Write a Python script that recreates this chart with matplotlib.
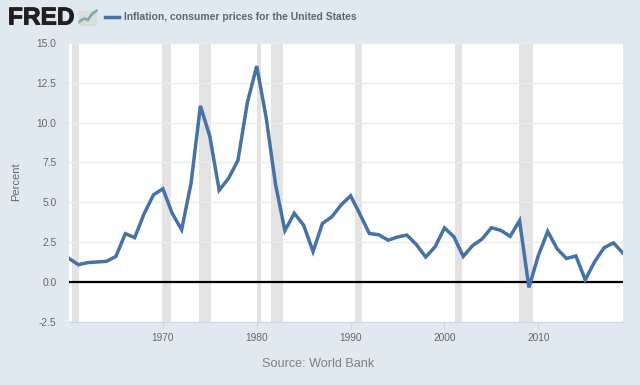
import matplotlib
matplotlib.use("Agg")
import matplotlib.pyplot as plt
import matplotlib.patheffects as pe
from matplotlib.lines import Line2D
from matplotlib.patches import Rectangle

plt.rcParams['font.family'] = ['Liberation Sans', 'DejaVu Sans']

years = list(range(1960, 2020))
inflation = [1.46, 1.07, 1.20, 1.24, 1.28, 1.59, 3.02, 2.77, 4.27, 5.46,
             5.84, 4.29, 3.27, 6.18, 11.05, 9.14, 5.75, 6.50, 7.63, 11.25,
             13.55, 10.33, 6.13, 3.21, 4.30, 3.55, 1.90, 3.66, 4.08, 4.83,
             5.40, 4.24, 3.03, 2.95, 2.61, 2.81, 2.93, 2.34, 1.55, 2.19,
             3.38, 2.83, 1.59, 2.27, 2.68, 3.39, 3.23, 2.85, 3.84, -0.36,
             1.64, 3.16, 2.07, 1.46, 1.62, 0.12, 1.26, 2.13, 2.44, 1.81]

# recession spans as fractional years
rec_start = [1960.33, 1969.92, 1973.87, 1980.0, 1981.5, 1990.5, 2001.17, 2007.92]
rec_end = [1961.08, 1970.83, 1975.17, 1980.5, 1982.83, 1991.17, 2001.83, 2009.42]

y_ticks = [-2.5, 0.0, 2.5, 5.0, 7.5, 10.0, 12.5, 15.0]
x_ticks = [1970, 1980, 1990, 2000, 2010]

bg = '#e1e9f0'
blue = '#4572a7'
label_col = '#666666'

fig = plt.figure(figsize=(6.4, 3.85), dpi=100, facecolor=bg)
ax = fig.add_axes([69/640, 1 - 321.5/385, (622.8-69)/640, (321.5-43)/385])

for a, b in zip(rec_start, rec_end):
    ax.axvspan(a, b, color='#e3e3e3', lw=0, zorder=1)
ax.set_yticks(y_ticks)
ax.grid(axis='y', color='#ececec', lw=1, zorder=0)
ax.axhline(0, color='black', lw=1.6, zorder=3)
ax.plot(years, inflation, color=blue, lw=2.5, zorder=4, solid_joinstyle='miter')

ax.set_xlim(1960, 2019)
ax.set_ylim(-2.5, 15)
ax.set_xticks(x_ticks)
ax.set_yticklabels(['%.1f' % v for v in y_ticks])
ax.tick_params(axis='y', length=0, labelsize=7.4, labelcolor=label_col, pad=9)
ax.tick_params(axis='x', length=5, width=0.8, color='#ccd6eb', labelsize=7.3,
               labelcolor=label_col, pad=3)
for s in ['top', 'left', 'right']:
    ax.spines[s].set_visible(False)
ax.spines['bottom'].set_color('#ccd6eb')

fig.text(16.5/640, 1 - 182/385, 'Percent', fontsize=8, color=label_col, rotation=90,
         ha='center', va='center')
fig.text(318/640, 1 - 364/385, 'Source: World Bank', fontsize=9.1, color='#7f7f7f',
         ha='center', va='center')

# header: logo and legend
logo = fig.text(8/640, 1 - 18/385, 'FRED', fontsize=17.6, fontweight='bold', color='#231f20',
                va='center', ha='left')
logo.set_path_effects([pe.withStroke(linewidth=0.7, foreground='#231f20')])
fig.add_artist(Rectangle((79/640, 1 - 26/385), 18/640, 15/385, transform=fig.transFigure,
                         facecolor='#d8dde0', edgecolor='none'))
fig.add_artist(Line2D([79/640, 84/640, 88/640, 92/640, 97/640],
                      [1 - 23/385, 1 - 19/385, 1 - 21/385, 1 - 15/385, 1 - 11/385],
                      color='#8fb573', lw=1))
fig.add_artist(Line2D([79/640, 84/640, 88/640, 92/640, 97/640],
                      [1 - 21/385, 1 - 18/385, 1 - 19/385, 1 - 13/385, 1 - 10/385],
                      color='#7f9fc0', lw=1))
fig.add_artist(Line2D([105/640, 119/640], [1 - 17/385, 1 - 17/385], color=blue, lw=2.5))
fig.text(123.5/640, 1 - 17/385, 'Inflation, consumer prices for the United States',
         fontsize=7.35, fontweight='bold', color='#5f666d', va='center', ha='left')

fig.savefig('out.png', dpi=100, facecolor=bg)
